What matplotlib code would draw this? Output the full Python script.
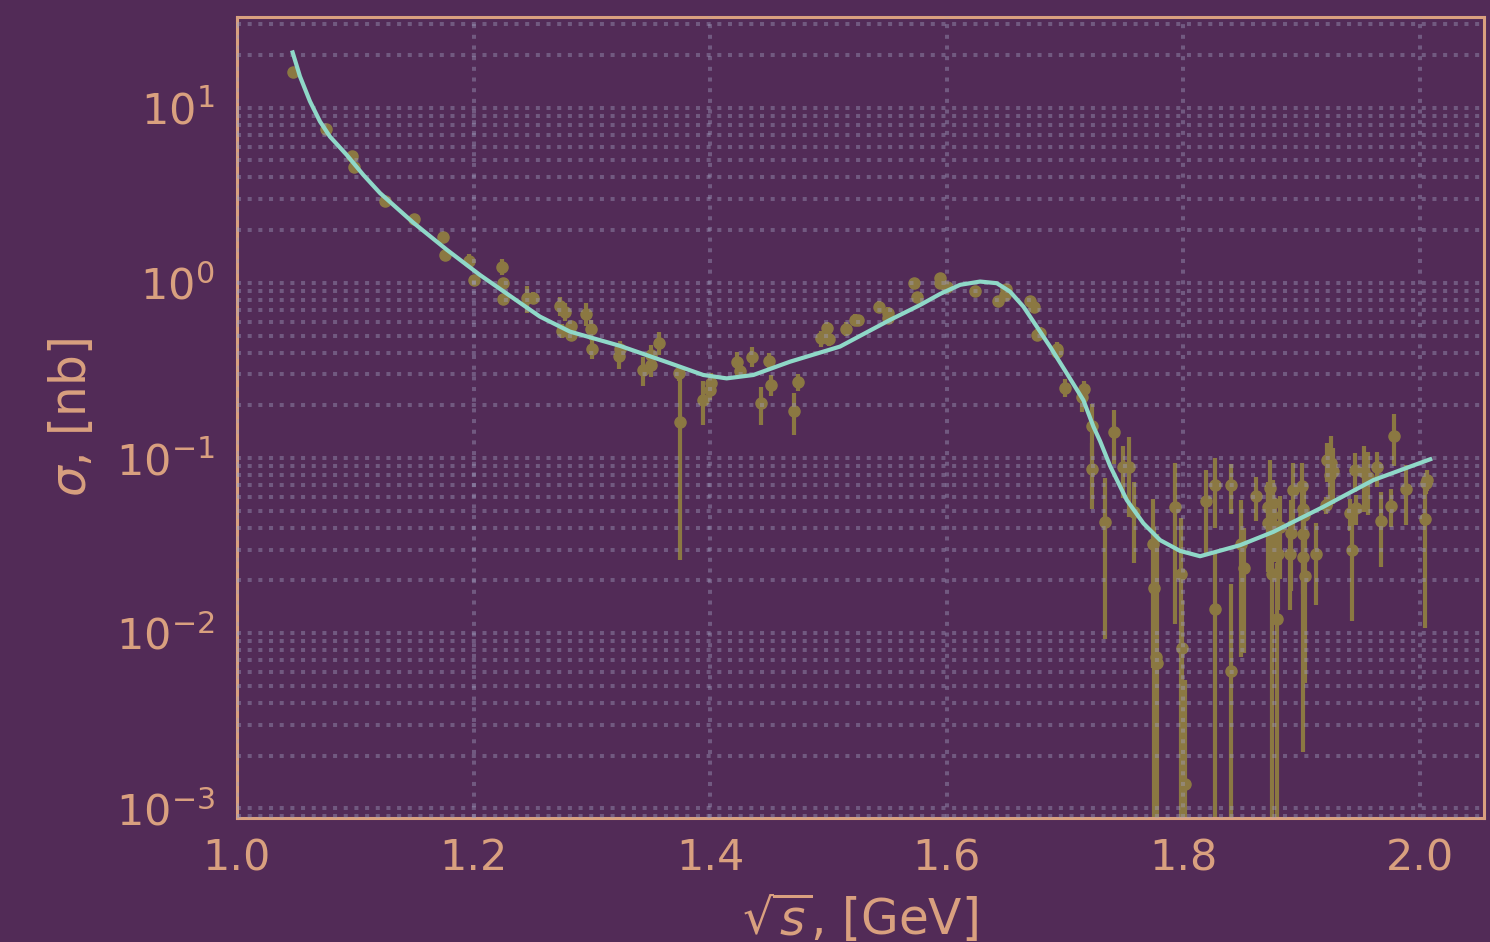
import numpy as np
import matplotlib
matplotlib.use("Agg")
import matplotlib.pyplot as plt

# =========================
# DATA
# =========================

# measured cross section points: sqrt(s) [GeV], sigma [nb], error [nb]
energy = [1.047, 1.075, 1.097, 1.099, 1.125, 1.150, 1.174, 1.176, 1.196, 1.200,
          1.224, 1.225, 1.225, 1.245, 1.250, 1.273, 1.277, 1.2745, 1.282, 1.282,
          1.295, 1.2995, 1.300, 1.324, 1.323, 1.3435, 1.350, 1.350, 1.357, 1.374,
          1.3742, 1.394, 1.400, 1.401, 1.423, 1.425, 1.435, 1.443, 1.450, 1.451,
          1.471, 1.474, 1.494, 1.499, 1.500, 1.515, 1.522, 1.525, 1.543, 1.550,
          1.550, 1.572, 1.5745, 1.594, 1.594, 1.6005, 1.624, 1.643, 1.649, 1.650,
          1.670, 1.674, 1.676, 1.679, 1.693, 1.6935, 1.700, 1.714, 1.716, 1.723,
          1.723, 1.734, 1.741, 1.749, 1.754, 1.758, 1.774, 1.775, 1.777, 1.778,
          1.793, 1.798, 1.799, 1.801, 1.819, 1.827, 1.827, 1.840, 1.840, 1.849,
          1.851, 1.861, 1.8718, 1.8732, 1.8718, 1.8746, 1.8760, 1.8774, 1.8746, 1.8788,
          1.8800, 1.8816, 1.8907, 1.8896, 1.8929, 1.8999, 1.9007, 1.9018, 1.9013, 1.9007,
          1.9028, 1.9121, 1.9205, 1.9217, 1.9245, 1.9260, 1.9240, 1.9451, 1.9408, 1.9422,
          1.9460, 1.9527, 1.9558, 1.9634, 1.9670, 1.9755, 1.9783, 1.9882, 2.0042, 2.0062,
          2.0050]
sigma = [15.9, 7.55, 5.27, 4.58, 2.95, 2.31, 1.82, 1.45, 1.34, 1.04,
         1.24, 1.00, 0.81, 0.817, 0.824, 0.739, 0.686, 0.534, 0.568, 0.505,
         0.665, 0.544, 0.42, 0.418, 0.383, 0.318, 0.39, 0.34, 0.456, 0.305,
         0.16, 0.214, 0.245, 0.267, 0.355, 0.315, 0.379, 0.205, 0.36, 0.261,
         0.186, 0.273, 0.483, 0.551, 0.477, 0.546, 0.615, 0.615, 0.732, 0.676,
         0.629, 0.996, 0.835, 1.06, 1.00, 0.953, 0.90, 0.789, 0.853, 0.924,
         0.792, 0.726, 0.505, 0.52, 0.418, 0.405, 0.252, 0.222, 0.247, 0.153,
         0.0865, 0.0433, 0.140, 0.0885, 0.0892, 0.0493, 0.0323, 0.0182, 0.0073, 0.0068,
         0.0523, 0.0219, 0.0082, 0.00138, 0.0568, 0.0701, 0.0138, 0.0701, 0.0061, 0.0323,
         0.0237, 0.0607, 0.0424, 0.0671, 0.0527, 0.0472, 0.0551, 0.0405, 0.0219, 0.0120,
         0.0285, 0.0405, 0.0374, 0.0285, 0.0656, 0.0692, 0.0509, 0.0472, 0.0368, 0.0271,
         0.0212, 0.0285, 0.0539, 0.0974, 0.0933, 0.0847, 0.080, 0.0854, 0.0483, 0.0298,
         0.0516, 0.0835, 0.0776, 0.0885, 0.0438, 0.0534, 0.134, 0.0663, 0.0447, 0.0749,
         0.0722]
sigma_err = [0.6, 0.3, 0.2, 0.2, 0.1, 0.12, 0.1, 0.06, 0.13, 0.05,
             0.13, 0.05, 0.05, 0.14, 0.06, 0.09, 0.08, 0.05, 0.04, 0.04,
             0.10, 0.07, 0.05, 0.05, 0.06, 0.06, 0.05, 0.05, 0.07, 0.03,
             0.134, 0.06, 0.03, 0.04, 0.05, 0.03, 0.05, 0.05, 0.04, 0.035,
             0.05, 0.03, 0.05, 0.05, 0.04, 0.05, 0.05, 0.04, 0.06, 0.05,
             0.05, 0.05, 0.04, 0.05, 0.05, 0.05, 0.04, 0.05, 0.05, 0.04,
             0.05, 0.04, 0.04, 0.04, 0.04, 0.03, 0.03, 0.04, 0.03, 0.05,
             0.035, 0.034, 0.048, 0.029, 0.043, 0.024, 0.026, 0.022, 0.012, 0.03,
             0.041, 0.0235, 0.0073, 0.004, 0.029, 0.03, 0.015, 0.022, 0.013, 0.025,
             0.016, 0.017, 0.02, 0.03, 0.02, 0.025, 0.02, 0.015, 0.022, 0.013,
             0.015, 0.02, 0.02, 0.015, 0.028, 0.025, 0.02, 0.02, 0.02, 0.025,
             0.016, 0.014, 0.006, 0.024, 0.04, 0.03, 0.025, 0.021, 0.01, 0.018,
             0.01, 0.034, 0.03, 0.02, 0.02, 0.013, 0.044, 0.025, 0.034, 0.01,
             0.01]

# fitted model curve
fit_energy = [1.0471, 1.0533, 1.0617, 1.0702, 1.0786, 1.0927, 1.1068, 1.1209, 1.1490, 1.1772,
              1.2054, 1.2392, 1.2561, 1.2815, 1.3238, 1.3660, 1.3942, 1.4139, 1.4365, 1.4675,
              1.5097, 1.5520, 1.5604, 1.5774, 1.5943, 1.6112, 1.6281, 1.6422, 1.6534, 1.6647,
              1.6760, 1.6872, 1.7013, 1.7154, 1.7239, 1.7295, 1.7380, 1.7521, 1.7661, 1.7802,
              1.7971, 1.8140, 1.8478, 1.8760, 1.9183, 1.9606, 2.0085]
fit_sigma = [20.7, 15.1, 10.9, 8.35, 6.85, 5.39, 4.14, 3.26, 2.21, 1.55,
             1.11, 0.77, 0.642, 0.527, 0.437, 0.348, 0.298, 0.285, 0.298, 0.355,
             0.433, 0.615, 0.656, 0.748, 0.865, 0.975, 1.018, 0.996, 0.892, 0.732,
             0.563, 0.433, 0.305, 0.214, 0.151, 0.125, 0.09, 0.0575, 0.0424, 0.034,
             0.0295, 0.0275, 0.0318, 0.0379, 0.0527, 0.0749, 0.0984]

# =========================
# STYLE
# =========================

bg = "#522b57"
fg = "#d9a07f"
pt_color = "#8b7842"
fit_color = "#8fd8c8"

plt.rcParams["font.family"] = ["DejaVu Sans"]

fig = plt.figure(figsize=(14.9, 9.42), dpi=100, facecolor=bg)
ax = fig.add_axes([0.159, 0.1316, 0.837, 0.8504])
ax.set_facecolor(bg)

ax.errorbar(energy, sigma, yerr=sigma_err, fmt="o", color=pt_color,
            ecolor=pt_color, markersize=8, elinewidth=3, capsize=0, zorder=2)
ax.plot(fit_energy, fit_sigma, color=fit_color, linewidth=3, zorder=3)

ax.set_yscale("log")
ax.set_xlim(1.0, 2.054)
ax.set_ylim(8.8e-4, 33)

ax.set_axisbelow(False)
ax.grid(True, which="both", axis="y", color="#a0a0c0", alpha=0.4,
        linestyle=":", linewidth=2.9, zorder=4)
ax.grid(True, which="major", axis="x", color="#a0a0c0", alpha=0.4,
        linestyle=":", linewidth=2.9, zorder=4)

for s in ax.spines.values():
    s.set_color(fg)
    s.set_linewidth(2.2)

ax.tick_params(which="both", length=0, colors=fg, labelsize=31)
ax.tick_params(axis="x", pad=14)
ax.tick_params(axis="y", pad=16)

ax.set_xlabel(r"$\sqrt{s}$, [GeV]", color=fg, fontsize=35, labelpad=8)
ax.set_ylabel(r"$\sigma$, [nb]", color=fg, fontsize=35, labelpad=14)

fig.savefig("out.png", dpi=100, facecolor=bg)
